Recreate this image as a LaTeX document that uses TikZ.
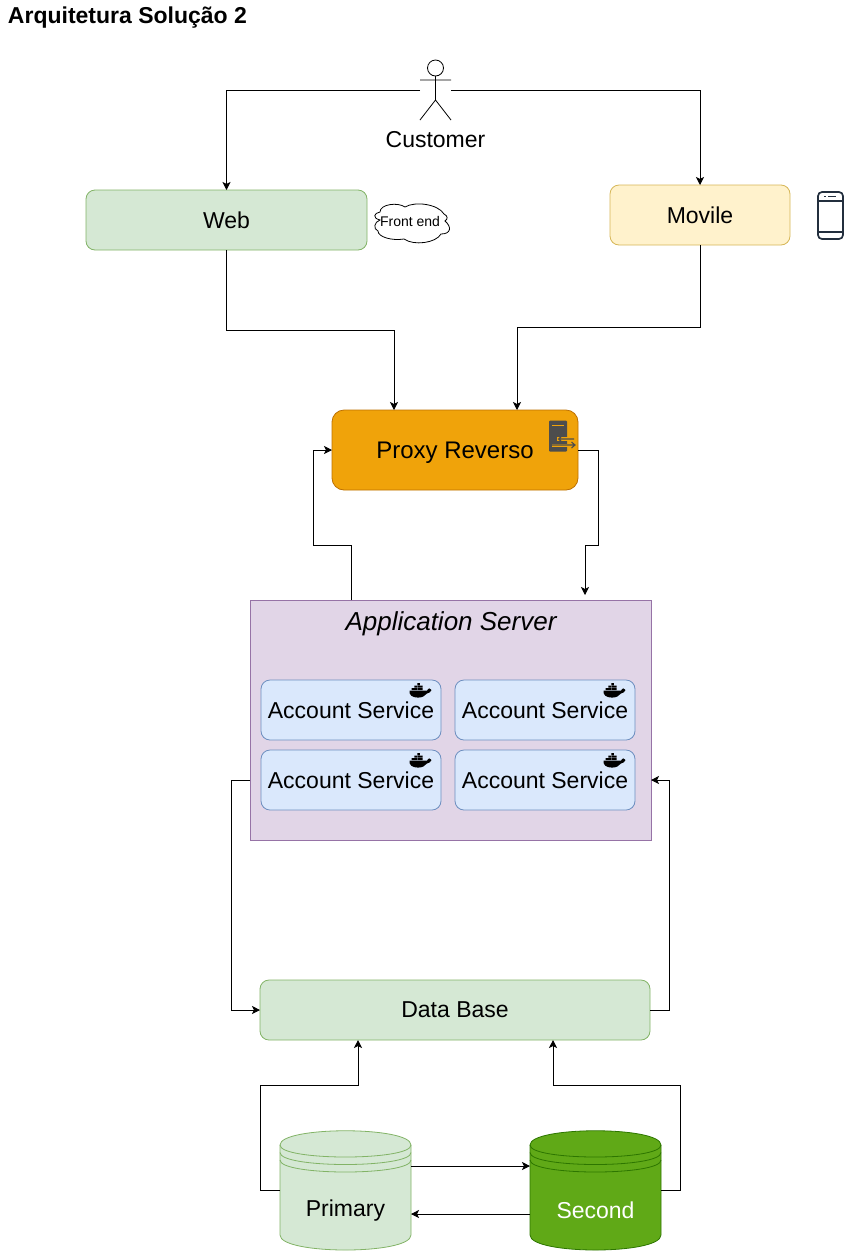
\documentclass[tikz,border=0pt]{standalone}
\usepackage{fontspec}
\setmainfont{Liberation Sans}
\usetikzlibrary{arrows.meta}
\definecolor{gfill}{HTML}{D5E8D4}\definecolor{gline}{HTML}{82B366}
\definecolor{yfill}{HTML}{FFF2CC}\definecolor{yline}{HTML}{D6B656}
\definecolor{ofill}{HTML}{F0A30A}\definecolor{oline}{HTML}{BD7000}
\definecolor{pfill}{HTML}{E1D5E7}\definecolor{pline}{HTML}{9673A6}
\definecolor{bfill}{HTML}{DAE8FC}\definecolor{bline}{HTML}{6C8EBF}
\definecolor{dfill}{HTML}{60A917}\definecolor{dline}{HTML}{2D7600}
\definecolor{phonec}{HTML}{232F3E}\definecolor{srvc}{HTML}{4D4D4D}
\newcommand{\fs}[1]{\fontsize{#1}{#1}\selectfont}
\newcommand{\dn}[1]{\raisebox{-1pt}{#1}}
\newcommand{\mycyl}[6]{%
 \node[ghost,minimum width=131,minimum height=120] (#1) at (#2,1190) {};
 \draw[fill=#3,draw=#4,line width=.8pt] (#2-65.5,1145) .. controls (#2-65.5,1126) and (#2+65.5,1126) .. (#2+65.5,1145) -- (#2+65.5,1235) .. controls (#2+65.5,1255) and (#2-65.5,1255) .. (#2-65.5,1235) -- cycle;
 \foreach \dy in {0,7.5,15}
  \draw[draw=#4,line width=.8pt] (#2-65.5,1145+\dy) .. controls (#2-65.5,1161+\dy) and (#2+65.5,1161+\dy) .. (#2+65.5,1145+\dy);
 \node[lbl,text=#6] (#1label) at (#2,1210.5) {#5};
}
\tikzset{
 x=1pt,y=-1pt,
 lbl/.style={font=\fs{23},inner sep=0,outer sep=0},
 box/.style={draw,line width=.8pt,rounded corners=9,outer sep=0,inner sep=0,font=\fs{23},align=center},
 webbox/.style={box,fill=gfill,draw=gline},
 movbox/.style={box,fill=yfill,draw=yline},
 prxbox/.style={box,fill=ofill,draw=oline,rounded corners=12},
 appbox/.style={draw=pline,fill=pfill,line width=.8pt,outer sep=0,inner sep=0},
 svc/.style={box,fill=bfill,draw=bline,minimum width=180,minimum height=60},
 ghost/.style={inner sep=0,outer sep=0},
 conn/.style={draw=black,line width=.8pt,-{Stealth[length=8,width=8,inset=2]}},
 pics/whale/.style={code={
  \fill[black] (-20.5,5.6) -- (-3,5.6) .. controls (-2.5,4) and (-1,3.6) .. (-.5,3.4) .. controls (.2,4) and (.6,4.6) .. (1.5,5) .. controls (1,7) and (-1,8) .. (-3,8.5) .. controls (-5,11) and (-8,12.6) .. (-12,12.6) .. controls (-18,12.6) and (-21,10) .. (-20.5,5.6) -- cycle;
  \fill[black] (-18.5,3) rectangle (-16,5) (-15.6,3) rectangle (-13.1,5) (-12.7,3) rectangle (-10.2,5) (-9.8,3) rectangle (-7.3,5) (-15.6,.5) rectangle (-13.1,2.5) (-12.7,.5) rectangle (-10.2,2.5) (-9.8,.5) rectangle (-7.3,2.5) (-12.7,-2) rectangle (-10.2,0);
 }}
}
\begin{document}
\begin{tikzpicture}
\useasboundingbox (0,0) rectangle (861,1251);
\node[ghost,anchor=base west,font=\fs{23}\bfseries] (title) at (8,23) {Arquitetura Solução 2};
% actor
\node[ghost,minimum width=31,minimum height=60] (actor) at (435.5,90) {};
\draw[line width=.8pt] (435.5,68) circle (8);
\draw[line width=.8pt] (435.5,76) -- (435.5,100) (420,80) -- (451,80) (420,120) -- (435.5,100) -- (451,120);
\node[lbl] (customer) at (435.5,140) {Customer};
% boxes
\node[webbox,minimum width=281,minimum height=60] (web) at (226.5,220) {\dn{Web}};
\node[movbox,minimum width=180,minimum height=60] (movile) at (700,215) {\dn{Movile}};
\node[prxbox,minimum width=246,minimum height=80] (proxy) at (455,450) {};
\node[lbl,font=\fs{24}] (proxytext) at (455,452.5) {Proxy Reverso};
\node[appbox,minimum width=401,minimum height=240] (app) at (450.5,720) {};
\node[lbl,font=\fs{26}\itshape] (apptitle) at (451,623.5) {Application Server};
\node[svc] (s1) at (351,710) {\dn{Account Service}};
\node[svc] (s2) at (545,710) {\dn{Account Service}};
\node[svc] (s3) at (351,780) {\dn{Account Service}};
\node[svc] (s4) at (545,780) {\dn{Account Service}};
\foreach \n in {s1,s2,s3,s4} \pic at ([xshift=-11pt,yshift=-5pt]\n.north east) {whale};
\node[webbox,minimum width=390,minimum height=60] (db) at (455,1010) {\dn{Data Base}};
% cloud
\draw[line width=.8pt,fill=white] (380,212) .. controls (380,204) and (398,202) .. (405,207) .. controls (415,201) and (438,204) .. (444,214) .. controls (448,216) and (448,219) .. (445,221) .. controls (452,227) and (451,234) .. (441,234) .. controls (436,243) and (414,246) .. (404,239) .. controls (392,241) and (378,237) .. (378,231) .. controls (373,229) and (374,222) .. (380,220) .. controls (372,218) and (374,213) .. (380,212) -- cycle;
\node[ghost,font=\fs{14}] (cloud) at (410,221.5) {Front end};
% phone
\node[ghost,minimum width=25,minimum height=47] (phone) at (830.5,215.5) {};
\draw[draw=phonec,line width=1.7pt,rounded corners=4] (phone.north west) rectangle (phone.south east);
\draw[draw=phonec,line width=1.2pt] (phone.west |- 0,201) -- (phone.east |- 0,201) (phone.west |- 0,232) -- (phone.east |- 0,232);
\draw[draw=phonec,line width=1.4pt] (828,196.5) -- (836,196.5) (824,196.5) -- (825.5,196.5);
% server icon
\node[ghost,minimum width=18,minimum height=31,fill=srvc,rounded corners=1] (srv) at (558,436) {};
\draw[draw=ofill,line width=1pt] (552,425) -- (564,425);
\draw[draw=ofill,line width=3.6pt] (557,439) -- (575,439);
\draw[draw=ofill,line width=3pt] (552,445) -- (576,445);
\draw[draw=srvc,line width=1.1pt] (559,439) -- (574,439) (562,436) -- (558.5,439) -- (562,442);
\draw[draw=srvc,line width=1.1pt] (552,445) -- (575,445) (571.5,442) -- (575,445) -- (571.5,448);
% connectors
\draw[conn] (actor.west) -| (web.north);
\draw[conn] (actor.east) -| (movile.north);
\draw[conn] (web.south) -- ++(0,80) -| ([xshift=62pt]proxy.north west);
\draw[conn] (movile.south) -- ++(0,82) -| ([xshift=185pt]proxy.north west);
\draw[conn] (proxy.east) -- ++(20,0) |- (585,545) -- ([xshift=134.5pt,yshift=5pt]app.north);
\draw[conn] ([xshift=-99.5pt]app.north) |- (313,545) |- (proxy.west);
\draw[conn] ([yshift=-60pt]app.west) -- ++(-19,0) |- (db.west);
\draw[conn] (db.east) -- ++(19,0) |- ([yshift=-60pt]app.east);
\mycyl{primary}{345.5}{gfill}{gline}{Primary}{black}
\mycyl{second}{595.5}{dfill}{dline}{Second}{white}
\draw[conn] ([yshift=24pt]primary.east) -- ([yshift=24pt]second.west);
\draw[conn] ([yshift=-24pt]second.west) -- ([yshift=-24pt]primary.east);
\draw[conn] (primary.west) -- ++(-20,0) |- (358,1085) -- ([xshift=-97pt]db.south);
\draw[conn] (second.east) -- ++(19,0) |- (553,1085) -- ([xshift=98pt]db.south);
\end{tikzpicture}
\end{document}
